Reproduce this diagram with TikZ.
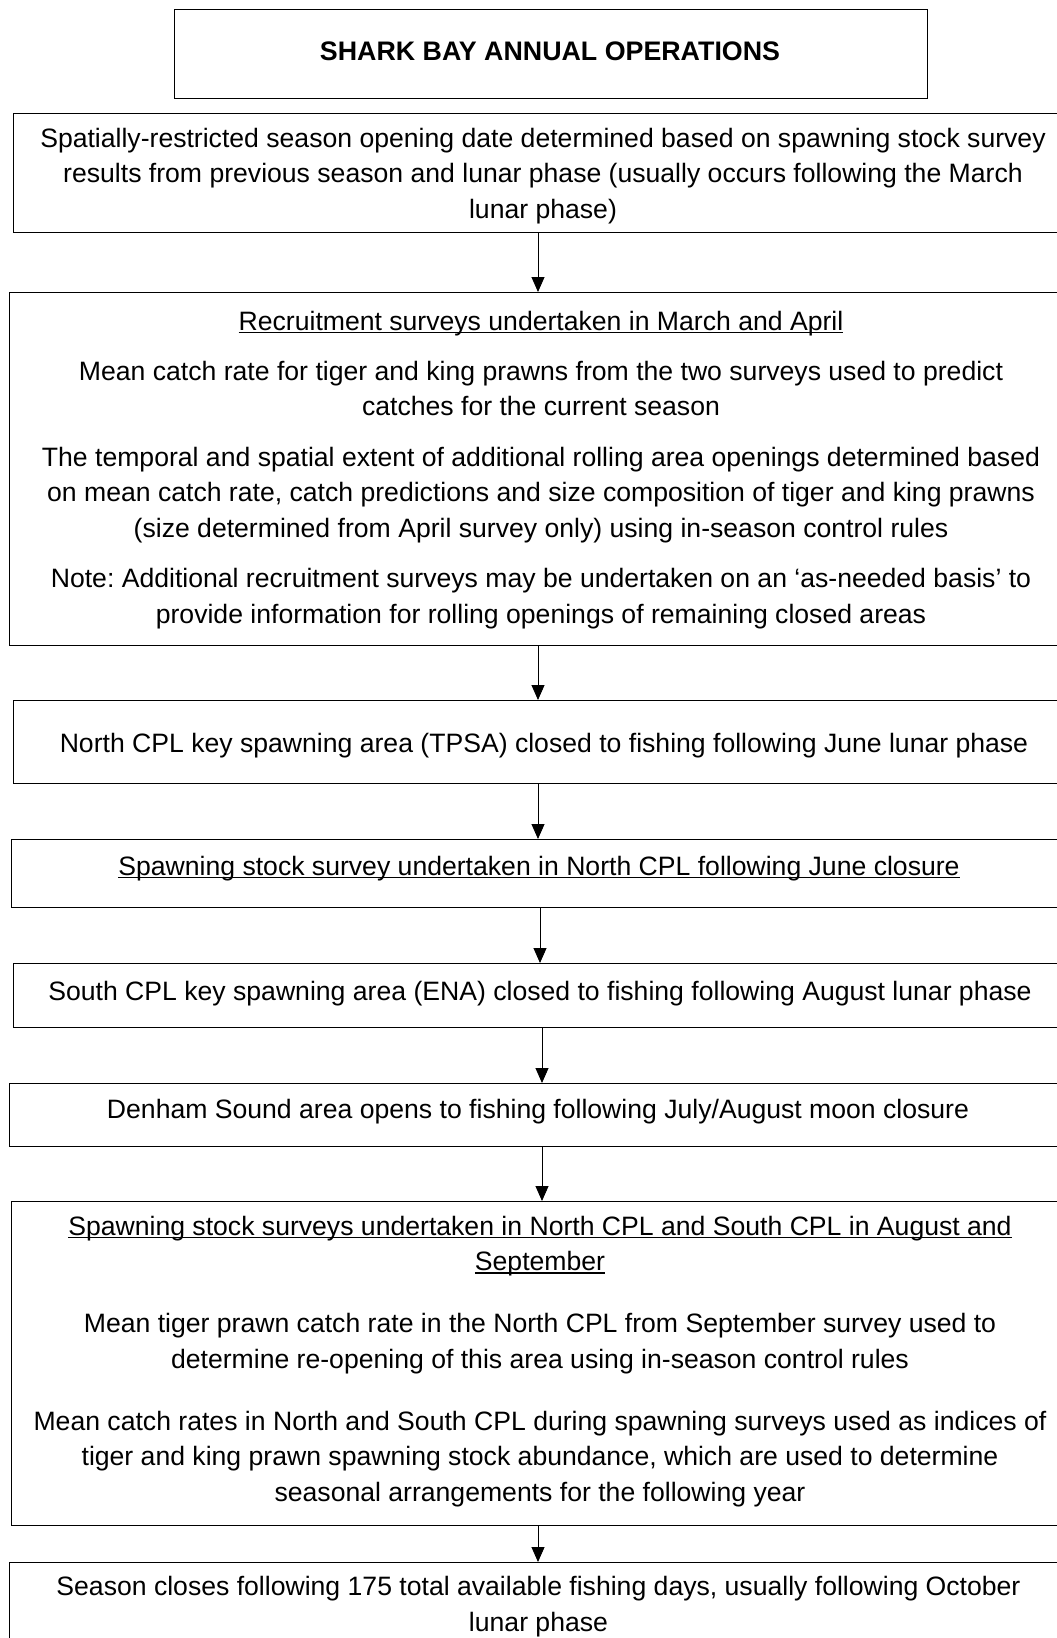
\documentclass[tikz,border=0pt]{standalone}
\usepackage{fontspec}
\setmainfont{Liberation Sans}
\usetikzlibrary{arrows.meta}
\frenchspacing
\newcommand{\myul}[1]{\setbox0\hbox{#1}\rlap{\rule[-3pt]{\wd0}{1.1pt}}\box0}
\begin{document}
\begin{tikzpicture}[x=1pt,y=-1pt,
  box/.style={draw=black, line width=0.9pt, rectangle, inner sep=0pt, anchor=north west},
  txt/.style={align=center, anchor=base, inner sep=0pt, font=\fontsize{26.6}{35.5}\selectfont},
  arr/.style={-{Triangle[length=15pt,width=13pt]}, line width=0.9pt}]
\useasboundingbox (0,0) rectangle (1057,1638);
\clip (0,0) rectangle (1057,1638);
% boxes
\node[box, minimum width=753pt, minimum height=89pt] (b0) at (174,9) {};
\node[box, minimum width=1067pt, minimum height=119pt] (b1) at (13,113) {};
\node[box, minimum width=1071pt, minimum height=353pt] (b2) at (9,292) {};
\node[box, minimum width=1067pt, minimum height=83pt] (b3) at (13,700) {};
\node[box, minimum width=1069pt, minimum height=68pt] (b4) at (11,839) {};
\node[box, minimum width=1067pt, minimum height=64pt] (b5) at (13,963) {};
\node[box, minimum width=1071pt, minimum height=63pt] (b6) at (9,1083) {};
\node[box, minimum width=1069pt, minimum height=324pt] (b7) at (11,1201) {};
\node[box, minimum width=1071pt, minimum height=100pt] (b8) at (9,1562) {};
% texts (anchored at the baseline of their last line)
\node[txt, font=\fontsize{26.8}{30}\selectfont\bfseries] (t0) at (550,60) {SHARK BAY ANNUAL OPERATIONS};
\node[txt] (t1) at (543,218) {Spatially-restricted season opening date determined based on spawning stock survey\\
results from previous season and lunar phase (usually occurs following the March\\
lunar phase)};
\node[txt] (t2) at (541,623) {\myul{Recruitment surveys undertaken in March and April}\\[14.5pt]
Mean catch rate for tiger and king prawns from the two surveys used to predict\\
catches for the current season\\[15pt]
The temporal and spatial extent of additional rolling area openings determined based\\
on mean catch rate, catch predictions and size composition of tiger and king prawns\\
(size determined from April survey only) using in-season control rules\\[15pt]
Note: Additional recruitment surveys may be undertaken on an ‘as-needed basis’ to\\
provide information for rolling openings of remaining closed areas};
\node[txt] (t3) at (544,752) {North CPL key spawning area (TPSA) closed to fishing following June lunar phase};
\node[txt] (t4) at (539,875) {\myul{Spawning stock survey undertaken in North CPL following June closure}};
\node[txt] (t5) at (540,1000) {South CPL key spawning area (ENA) closed to fishing following August lunar phase};
\node[txt] (t6) at (538,1118) {Denham Sound area opens to fishing following July/August moon closure};
\node[txt] (t7) at (540,1501) {\myul{Spawning stock surveys undertaken in North CPL and South CPL in August and}\\
\myul{September}\\[26.5pt]
Mean tiger prawn catch rate in the North CPL from September survey used to\\
determine re-opening of this area using in-season control rules\\[26.5pt]
Mean catch rates in North and South CPL during spawning surveys used as indices of\\
tiger and king prawn spawning stock abundance, which are used to determine\\
seasonal arrangements for the following year};
\node[txt] (t8) at (538.5,1631) {Season closes following 175 total available fishing days, usually following October\\
lunar phase};
% connectors
\coordinate (c1) at (538,0);
\coordinate (c2) at (538,0);
\coordinate (c3) at (538,0);
\coordinate (c4) at (540,0);
\coordinate (c5) at (542,0);
\coordinate (c6) at (542,0);
\coordinate (c7) at (538,0);
\draw[arr] (c1 |- b1.south) -- (c1 |- b2.north);
\draw[arr] (c2 |- b2.south) -- (c2 |- b3.north);
\draw[arr] (c3 |- b3.south) -- (c3 |- b4.north);
\draw[arr] (c4 |- b4.south) -- (c4 |- b5.north);
\draw[arr] (c5 |- b5.south) -- (c5 |- b6.north);
\draw[arr] (c6 |- b6.south) -- (c6 |- b7.north);
\draw[arr] (c7 |- b7.south) -- (c7 |- b8.north);
\end{tikzpicture}
\end{document}
